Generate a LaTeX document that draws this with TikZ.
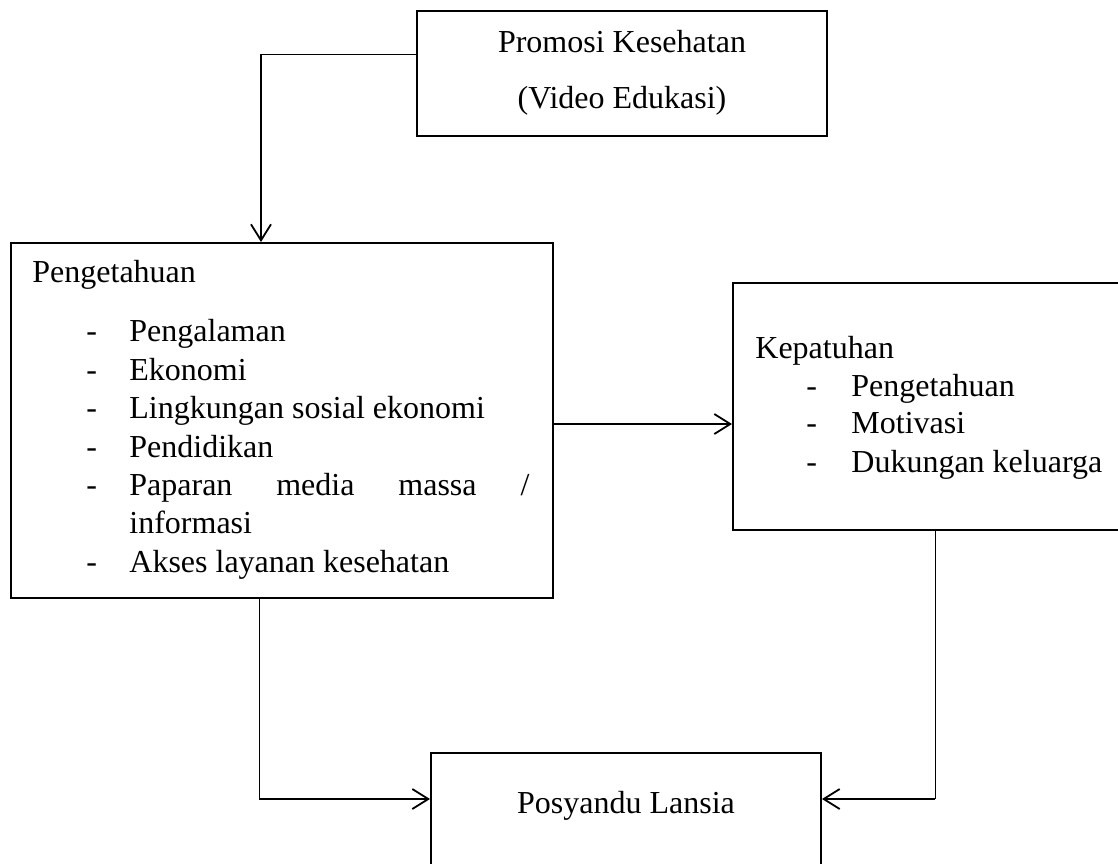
\documentclass[tikz,border=0pt]{standalone}
\usepackage{fontspec}
\setmainfont{Liberation Serif}
\usetikzlibrary{arrows.meta}
\tikzset{
  box/.style={draw, line width=1pt, inner sep=0pt},
  thinline/.style={line width=0.5pt},
  arrowline/.style={line width=0.9pt, -{Straight Barb[length=8pt,width=10pt]}},
  txt/.style={anchor=base west, inner sep=0pt}
}
\begin{document}
\begin{tikzpicture}[x=0.5pt,y=-0.5pt,font=\fontsize{16}{19}\selectfont]
\useasboundingbox (0,0) rectangle (1118,863);
\node [box, minimum width=205pt, minimum height=62.5pt] (promosi) at (622,73.5) {};
\node [box, minimum width=271pt, minimum height=177.5pt] (pengetahuan) at (282,420.5) {};
\node [box, minimum width=196pt, minimum height=123.5pt] (kepatuhan) at (929,406.5) {};
\node [box, minimum width=195pt, minimum height=63.5pt] (posyandu) at (626,816.5) {};
% promosi
\node [anchor=base, inner sep=0pt] (promosiA) at (622,52) {Promosi Kesehatan};
\node [anchor=base, inner sep=0pt] (promosiB) at (622,108) {(Video Edukasi)};
% pengetahuan
\node [txt] (pengT) at (32,282) {Pengetahuan};
\foreach \y/\t [count=\i] in {341/Pengalaman, 380/Ekonomi, 418/Lingkungan sosial ekonomi,
    457/Pendidikan, 495/{\makebox[200pt][s]{Paparan media massa /}}, 572/Akses layanan kesehatan} {
  \node [txt] (pengD\i) at (86,\y) {-};
  \node [txt] (pengI\i) at (129,\y) {\t};
}
\node [txt] (pengI7) at (129,533) {informasi};
% kepatuhan
\node [txt] (kepT) at (755,358) {Kepatuhan};
\foreach \y/\t [count=\i] in {396/Pengetahuan, 433/Motivasi, 472/Dukungan keluarga} {
  \node [txt] (kepD\i) at (806,\y) {-};
  \node [txt] (kepI\i) at (851,\y) {\t};
}
% posyandu
\node [anchor=base, inner sep=0pt] (posT) at (626,813) {Posyandu Lansia};
% garis
\coordinate (c1) at (261,54);
\draw [thinline] (promosi.west |- c1) -- (c1);
\draw [arrowline] (c1) -- (c1 |- pengetahuan.north);
\coordinate (c2) at (600,424);
\draw [arrowline] (pengetahuan.east |- c2) -- (kepatuhan.west |- c2);
\coordinate (c3) at (259,799);
\draw [thinline] (c3 |- pengetahuan.south) -- (c3);
\draw [arrowline] (c3) -- (posyandu.west |- c3);
\coordinate (c4) at (935,799);
\draw [thinline] (c4 |- kepatuhan.south) -- (c4);
\draw [arrowline] (c4) -- (posyandu.east |- c4);
\end{tikzpicture}
\end{document}
